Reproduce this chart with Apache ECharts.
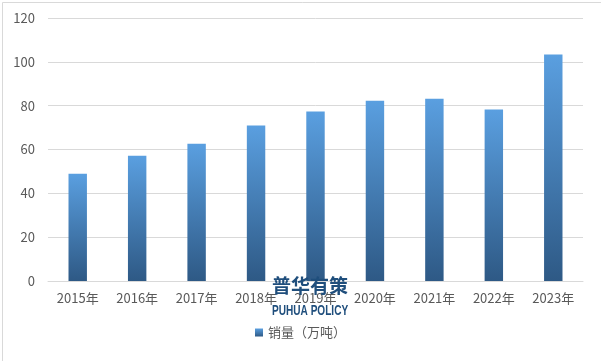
<!DOCTYPE html>
<html><head><meta charset="utf-8">
<script src="https://cdn.jsdelivr.net/npm/echarts@6/dist/echarts.min.js"></script>
<style>html,body{margin:0;padding:0;background:#fff}#c{width:601px;height:361px}</style>
</head><body><div id="c"></div>
<script>
const categories = ['2015年','2016年','2017年','2018年','2019年','2020年','2021年','2022年','2023年'];
const sales = [48.9, 57.1, 62.6, 70.9, 77.3, 82.3, 83.2, 78.2, 103.3];
const seriesName = '销量（万吨）';
const yTicks = {min: 0, max: 120, interval: 20};

const chart = echarts.init(document.getElementById('c'), null, {renderer: 'canvas'});
const font = '"Noto Sans CJK SC", "Microsoft YaHei", sans-serif';
chart.setOption({
  animation: false,
  backgroundColor: '#fff',
  textStyle: {fontFamily: font},
  grid: {left: 48, right: 18, top: 18, bottom: 80},
  legend: {
    data: [seriesName], bottom: 17, left: 'center', icon: 'rect',
    itemWidth: 8, itemHeight: 8, itemGap: 6,
    textStyle: {color: '#595959', fontSize: 13, fontFamily: font}
  },
  xAxis: {
    type: 'category', data: categories,
    axisLine: {lineStyle: {color: '#d9d9d9'}},
    axisTick: {show: false},
    axisLabel: {color: '#595959', fontSize: 13, margin: 11, fontFamily: font}
  },
  yAxis: {
    type: 'value', min: yTicks.min, max: yTicks.max, interval: yTicks.interval,
    axisLine: {show: false}, axisTick: {show: false},
    splitLine: {lineStyle: {color: '#d9d9d9'}},
    axisLabel: {color: '#595959', fontSize: 13, margin: 13, fontFamily: font}
  },
  series: [{
    name: seriesName, type: 'bar', data: sales, barWidth: '31%',
    itemStyle: {color: new echarts.graphic.LinearGradient(0, 0, 0, 1, [
      {offset: 0, color: '#5A9FE0'}, {offset: 1, color: '#2E5985'}
    ])}
  }],
  graphic: [
    {type: 'rect', left: 0, top: 0, shape: {width: 600, height: 360}, style: {fill: 'none', stroke: '#d9d9d9', lineWidth: 1}, silent: true},
    {type: 'text', left: 272, top: 276, z: 10, style: {text: '普华有策', fill: '#1F4E7C', font: 'bold 19px "Noto Sans CJK SC", sans-serif'}},
    {type: 'text', x: 272, y: 304, scaleX: 0.72, z: 10, style: {text: 'PUHUA POLICY', fill: '#1F4E7C', font: 'bold 14px "Liberation Sans", sans-serif'}}
  ]
});
</script></body></html>
